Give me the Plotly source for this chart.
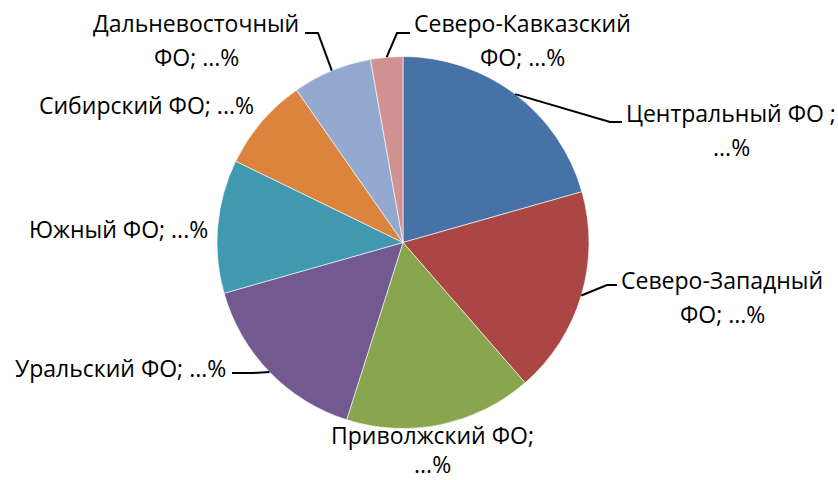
import math
import plotly.graph_objects as go

# ---- data ----
regions = ["Центральный ФО", "Северо-Западный ФО", "Приволжский ФО", "Уральский ФО",
           "Южный ФО", "Сибирский ФО", "Дальневосточный ФО", "Северо-Кавказский ФО"]
shares = [20.6, 18.0, 16.3, 15.7, 11.6, 8.1, 6.9, 2.8]
label_lines = [
    ["Центральный ФО ;", "...%"],
    ["Северо-Западный", "ФО; ...%"],
    ["Приволжский ФО;", "...%"],
    ["Уральский ФО; ...%"],
    ["Южный ФО; ...%"],
    ["Сибирский ФО; ...%"],
    ["Дальневосточный", "ФО; ...%"],
    ["Северо-Кавказский", "ФО; ...%"],
]
colors = ["#4672A8", "#AA4643", "#89A54E", "#72598F", "#4198AF", "#DB843D", "#93A9CF", "#D19392"]

# ---- layout constants (pixels) ----
W, H = 838, 480
CX, CY, R = 403, 242.5, 186
FONT = "Open Sans"
FS = 23

# label block: (center x, first-line center y) ; leader: elbow point, end point (or None)
label_pos = [(731, 113), (722, 280), (432, 435), (120, 368),
             (118, 229), (146, 105), (196, 23), (522, 23)]
leaders = [((610, 122), (622, 122)), ((607, 285), (617, 285)), None, ((253, 373), (232, 373)),
           None, None, ((318, 33), (305, 33)), ((397, 33), (410, 33))]
line_gaps = [34, 34, 29, 34, 34, 34, 34, 34]


def px(x):
    return x / W


def py(y):
    return 1 - y / H


fig = go.Figure(go.Pie(
    labels=regions, values=shares, sort=False, direction="clockwise", rotation=0,
    marker=dict(colors=colors, line=dict(color="rgba(255,255,255,0.6)", width=1)),
    textinfo="none", hoverinfo="label+percent", showlegend=False,
    domain=dict(x=[px(CX - R), px(CX + R)], y=[py(CY + R), py(CY - R)]),
))

annotations = []
shapes = []
total = sum(shares)
cum = 0
for i, v in enumerate(shares):
    mid = (cum + v / 2) / total * 2 * math.pi
    cum += v
    lx, ly = label_pos[i]
    for k, line in enumerate(label_lines[i]):
        annotations.append(dict(
            x=px(lx), y=py(ly + k * line_gaps[i]), xref="paper", yref="paper",
            text=line, showarrow=False, xanchor="center", yanchor="middle",
            borderpad=0, font=dict(family=FONT, size=FS, color="#000000")))
    if leaders[i] is not None:
        sx = CX + R * math.sin(mid)
        sy = CY - R * math.cos(mid)
        (ex, ey), (tx, ty) = leaders[i]
        path = f"M {px(sx)} {py(sy)} L {px(ex)} {py(ey)} L {px(tx)} {py(ty)}"
        shapes.append(dict(type="path", path=path, xref="paper", yref="paper",
                           line=dict(color="#000000", width=2)))

fig.update_layout(
    width=W, height=H, margin=dict(l=0, r=0, t=0, b=0),
    paper_bgcolor="white", plot_bgcolor="white",
    annotations=annotations, shapes=shapes,
)

fig.write_html("out.html", config={"displayModeBar": False},
               post_script="document.body.style.margin='0px';document.body.style.overflow='hidden';")
